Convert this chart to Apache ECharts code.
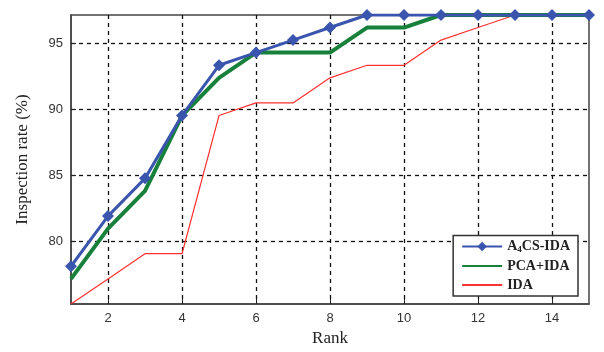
<!DOCTYPE html>
<html><head><meta charset="utf-8">
<script src="https://cdn.jsdelivr.net/npm/echarts@6/dist/echarts.min.js"></script>
<style>html,body{margin:0;padding:0;background:#fff}#c{width:604px;height:352px}</style>
</head><body><div id="c"></div>
<script>
const ranks = [1,2,3,4,5,6,7,8,9,10,11,12,13,14,15];
const a4csIda = [78.10,81.90,84.76,89.52,93.33,94.29,95.24,96.19,97.14,97.14,97.14,97.14,97.14,97.14,97.14];
const pcaIda  = [77.14,80.95,83.81,89.52,92.38,94.29,94.29,94.29,96.19,96.19,97.14,97.14,97.14,97.14,97.14];
const ida     = [75.24,77.14,79.05,79.05,89.52,90.48,90.48,92.38,93.33,93.33,95.24,96.19,97.14,97.14,97.14];
const xTicks = [2,4,6,8,10,12,14];
const yTicks = [80,85,90,95];
const seriesNames = ['A4CS-IDA','PCA+IDA','IDA'];

const chart = echarts.init(document.getElementById('c'));
const pair = arr => ranks.map((r,i)=>[r,arr[i]]);
const dashed = {show:true, lineStyle:{color:'#111', type:[4,4], width:1.3}};
const hideSym = {color:'rgba(0,0,0,0)', borderWidth:0, opacity:0};
chart.setOption({
  animation:false,
  grid:{left:71,right:15,top:15,bottom:47,show:true,borderColor:'#444',borderWidth:1.5,backgroundColor:'transparent'},
  legend:{
    orient:'vertical', right:26, bottom:56, itemWidth:40, itemHeight:12, itemGap:5,
    backgroundColor:'#fff', borderColor:'#333', borderWidth:1.5, padding:[4,8,4,8],
    data:[
      {name:seriesNames[0]},
      {name:seriesNames[1], itemStyle:hideSym},
      {name:seriesNames[2], itemStyle:hideSym}
    ],
    formatter: n => n==='A4CS-IDA' ? '{b|A}{s|4}{b|CS-IDA}' : '{b|'+n+'}',
    textStyle:{rich:{
      b:{fontFamily:'Liberation Serif',fontWeight:'bold',fontSize:14,color:'#222'},
      s:{fontFamily:'Liberation Serif',fontWeight:'bold',fontSize:9,color:'#222',verticalAlign:'bottom',padding:[6,0,0,0]}
    }}
  },
  xAxis:{type:'value',min:1,max:15,
    name:'Rank',nameLocation:'middle',nameGap:26,
    nameTextStyle:{fontFamily:'Liberation Serif',fontSize:17,color:'#222'},
    axisLine:{show:true,lineStyle:{color:'#444',width:1.5}},
    axisTick:{show:true,inside:true,length:5,customValues:xTicks,lineStyle:{color:'#222'}},
    axisLabel:{customValues:xTicks,fontFamily:'Liberation Sans',fontSize:13,color:'#333',margin:8},
    splitLine:dashed
  },
  yAxis:{type:'value',min:75.24,max:97.14,
    name:'Inspection rate (%)',nameLocation:'middle',nameGap:40,
    nameTextStyle:{fontFamily:'Liberation Serif',fontSize:17,color:'#222'},
    axisLine:{show:true,lineStyle:{color:'#444',width:1.5}},
    axisTick:{show:true,inside:true,length:5,customValues:yTicks,lineStyle:{color:'#222'}},
    axisLabel:{customValues:yTicks,fontFamily:'Liberation Sans',fontSize:13,color:'#333',margin:8},
    splitLine:dashed
  },
  series:[
    {name:'IDA',type:'line',data:pair(ida),symbol:'none',z:3,
      lineStyle:{color:'#ff3030',width:1.2},itemStyle:{color:'#ff3030'}},
    {name:'PCA+IDA',type:'line',data:pair(pcaIda),symbol:'none',z:4,
      lineStyle:{color:'#17803a',width:4},itemStyle:{color:'#17803a'}},
    {name:'A4CS-IDA',type:'line',data:pair(a4csIda),symbol:'diamond',symbolSize:12,z:5,
      lineStyle:{color:'#3a55ad',width:3},itemStyle:{color:'#3a55ad'}}
  ]
});
</script></body></html>
